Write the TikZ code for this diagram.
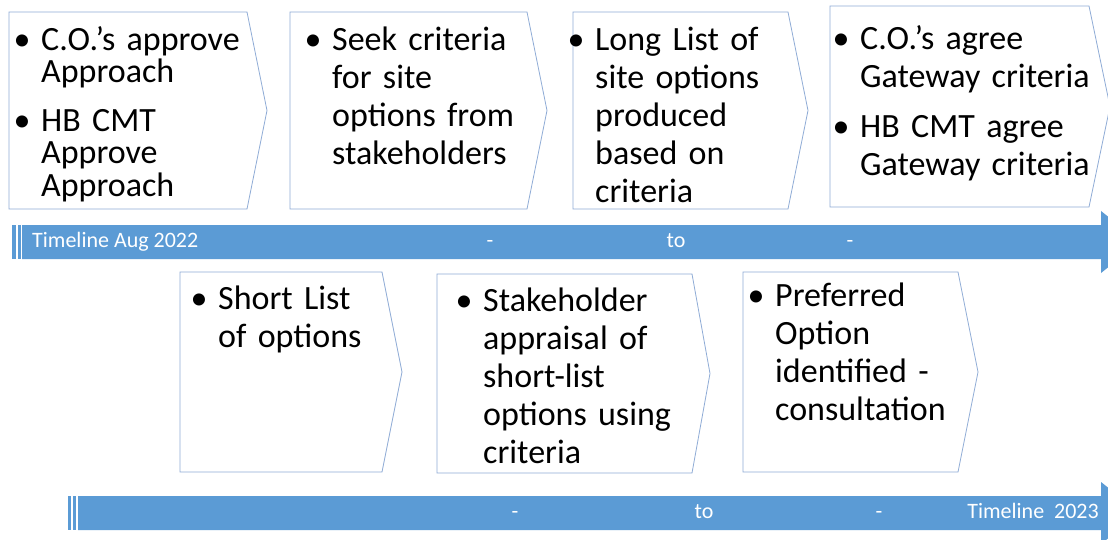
\documentclass[tikz,border=0pt]{standalone}
\usepackage{fontspec}
\setmainfont{Carlito}
\definecolor{boxline}{RGB}{143,172,214}
\definecolor{barblue}{RGB}{91,155,213}
\newlength{\bw}\setlength{\bw}{38pt}
\newcommand{\bitem}[1]{\hangindent=\bw\hangafter=1\noindent\makebox[\bw][c]{\textbullet}#1\par}
\newcommand{\fl}{\rule{0pt}{26pt}}
\newcommand{\nl}{\unskip\hfil\break}
\tikzset{
  chev/.style={draw=boxline, line width=0.8pt, fill=white, line join=miter},
  btext/.style={anchor=north west, inner sep=0pt, text width=330pt, font=\fontsize{34}{38}\selectfont},
  bartext/.style={text=white, font=\fontsize{22}{24}\selectfont, inner sep=0pt, text height=15pt, text depth=4pt},
  barfill/.style={fill=barblue, draw=none}
}
\begin{document}
\begin{tikzpicture}[x=1pt,y=-1pt]
\useasboundingbox (0,0) rectangle (1108,540);
\clip (0,0) rectangle (1108,540);
\fill[white] (0,0) rectangle (1108,540);

% top row chevrons
\draw[chev] (9,12) -- (247,12) -- (267,110.5) -- (247,209) -- (9,209) -- cycle;
\draw[chev] (290,12) -- (527,12) -- (547,110.5) -- (527,209) -- (290,209) -- cycle;
\draw[chev] (573,12) -- (788,12) -- (808,110.5) -- (788,209) -- (573,209) -- cycle;
\draw[chev] (830,6) -- (1089,6) -- (1110,106.5) -- (1089,207) -- (830,207) -- cycle;

% bottom row chevrons
\draw[chev] (180,272) -- (382,272) -- (402,372) -- (382,472) -- (180,472) -- cycle;
\draw[chev] (437,274) -- (692,274) -- (710,373.5) -- (692,473) -- (437,473) -- cycle;
\draw[chev] (743,272) -- (958,272) -- (978,372) -- (958,472) -- (743,472) -- cycle;

% texts top row
\node[btext, font=\fontsize{34}{32.5}\selectfont] (t1) at (3,24)
  {\bitem{\fl C.O.'s approve\nl Approach}\vspace{16pt}\bitem{HB CMT\nl Approve\nl Approach}};
\node[btext] (t2) at (294,24)
  {\bitem{\fl Seek criteria\nl for site\nl options from\nl stakeholders}};
\node[btext] (t3) at (557,24)
  {\bitem{\fl Long List of\nl site options\nl produced\nl based on\nl criteria}};
\node[btext] (t4) at (822,23)
  {\bitem{\fl C.O.'s agree\nl Gateway criteria}\vspace{12pt}\bitem{HB CMT agree\nl Gateway criteria}};

% texts bottom row
\node[btext] (t5) at (180,283)
  {\bitem{\fl Short List\nl of options}};
\node[btext] (t6) at (445,285)
  {\bitem{\fl Stakeholder\nl appraisal of\nl short-list\nl options using\nl criteria}};
\node[btext] (t7) at (737,280)
  {\bitem{\fl Preferred\nl Option\nl identified -\nl consultation}};

% timeline bar 1
\fill[barfill] (12,225) rectangle (15.5,259);
\fill[barfill] (17.5,225) rectangle (20.5,259);
\fill[barfill] (22,225) -- (1101,225) -- (1101,211) -- (1140,242) -- (1101,273) -- (1101,259) -- (22,259) -- cycle;
\node[bartext, anchor=west] (l1) at (32,242) {Timeline Aug 2022};
\node[bartext] (l2) at (490,242) {-};
\node[bartext] (l3) at (676,242) {to};
\node[bartext] (l4) at (850,242) {-};

% timeline bar 2
\fill[barfill] (68,496) rectangle (71,530);
\fill[barfill] (73,496) rectangle (76,530);
\fill[barfill] (78,496) -- (1101,496) -- (1101,482) -- (1140,513) -- (1101,544) -- (1101,530) -- (78,530) -- cycle;
\node[bartext] (m1) at (515,513) {-};
\node[bartext] (m2) at (704,513) {to};
\node[bartext] (m3) at (879,513) {-};
\node[bartext, anchor=east] (m4) at (1099,513) {Timeline\ \ 2023};
\end{tikzpicture}
\end{document}
